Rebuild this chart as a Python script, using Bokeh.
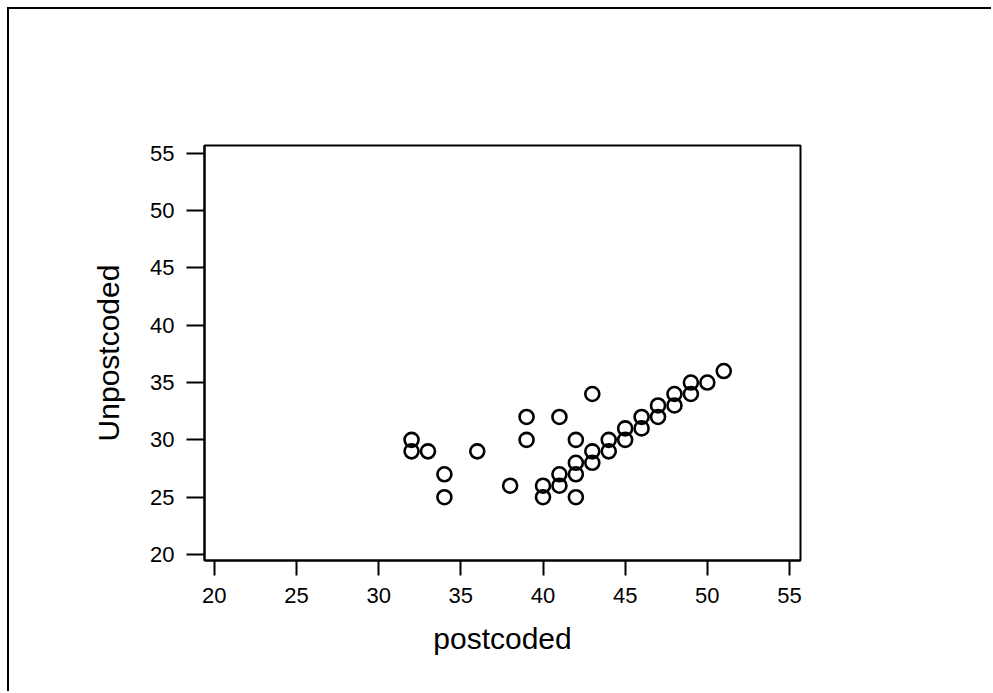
from bokeh.plotting import figure
from bokeh.models import ColumnDataSource, FixedTicker, Range1d
from bokeh.embed import file_html
from bokeh.resources import INLINE

postcoded = [32, 32, 33, 34, 34, 36, 38, 39, 39, 40, 40, 41, 41, 41, 42, 42, 42, 42,
             43, 43, 43, 44, 44, 45, 45, 46, 46, 47, 47, 48, 48, 49, 49, 50, 51]
unpostcoded = [30, 29, 29, 27, 25, 29, 26, 32, 30, 26, 25, 32, 27, 26, 30, 28, 27, 25,
               34, 29, 28, 30, 29, 31, 30, 32, 31, 33, 32, 34, 33, 35, 34, 35, 36]
ticks = [20, 25, 30, 35, 40, 45, 50, 55]

FONT = "Liberation Sans"

p = figure(width=984, height=684, output_backend="svg", toolbar_location=None,
           x_range=Range1d(19.4, 55.67), y_range=Range1d(19.48, 55.67),
           min_border_left=195, min_border_top=136, min_border_right=193, min_border_bottom=133)
p.margin = (7, 0, 0, 7)
p.styles = {"border-left": "2px solid black", "border-top": "2px solid black"}

src = ColumnDataSource(dict(x=postcoded, y=unpostcoded))
p.scatter("x", "y", source=src, marker="circle", size=14, fill_color=None,
          line_color="black", line_width=2.6)

p.grid.visible = False
p.outline_line_color = "black"
p.outline_line_width = 2
p.background_fill_color = "white"
p.border_fill_color = "white"

for ax, tout in ((p.xaxis, 15), (p.yaxis, 18)):
    ax.ticker = FixedTicker(ticks=ticks)
    ax.major_tick_out = tout
    ax.major_tick_in = 0
    ax.minor_tick_line_color = None
    ax.major_tick_line_width = 2
    ax.major_tick_line_color = "black"
    ax.axis_line_color = "black"
    ax.axis_line_width = 2
    ax.major_label_text_font = FONT
    ax.major_label_text_font_size = "22px"
    ax.major_label_text_color = "black"
    ax.major_label_standoff = 12
    ax.axis_label_text_font = FONT
    ax.axis_label_text_font_size = "30px"
    ax.axis_label_text_font_style = "normal"
    ax.axis_label_text_color = "black"

p.xaxis.axis_label = "postcoded"
p.yaxis.axis_label = "Unpostcoded"
p.xaxis.axis_label_standoff = 16
p.yaxis.axis_label_standoff = 22
p.yaxis.major_label_orientation = "horizontal"

open("out.html", "w").write(file_html(p, INLINE))
